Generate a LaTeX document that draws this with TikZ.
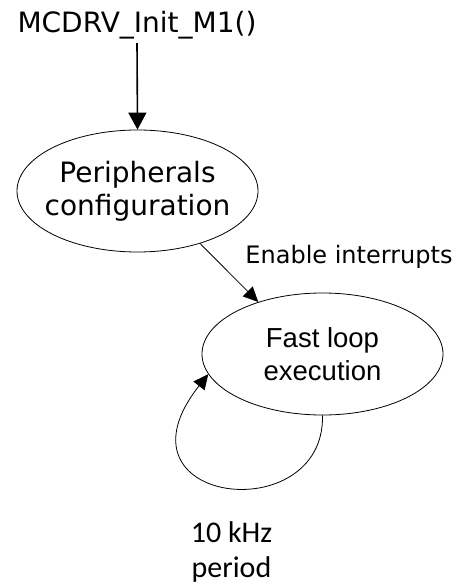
\documentclass[tikz,border=0pt]{standalone}
\usepackage{fontspec}
\setmainfont{DejaVu Sans}
\newfontfamily\loopfont{Liberation Sans}
\newfontfamily\periodfont{Carlito}
\usetikzlibrary{shapes.geometric,arrows.meta}

\tikzset{
  state/.style={ellipse,draw,line width=0.8pt,inner xsep=-12pt,inner ysep=0pt,
    minimum width=241pt,minimum height=122pt,align=center},
  flow/.style={-{Triangle[length=17pt,width=18pt]},line width=1.6pt},
  thinflow/.style={-{Triangle[length=15pt,width=14pt]},line width=0.8pt}
}

\begin{document}
\begin{tikzpicture}[x=1pt,y=-1pt]
\useasboundingbox (0,0) rectangle (459,586);

% Entry call
\node[anchor=base,font=\fontsize{28}{32}\selectfont] (init) at (137,33) {MCDRV\_Init\_M1()};

% States
\node[state,font=\fontsize{28}{33}\selectfont] (periph) at (137.5,191) {Peripherals\\configuration};
\node[state,font=\loopfont\fontsize{27.5}{33}\selectfont] (fastloop) at (322.5,354) {Fast loop\\execution};

% Transitions
\draw[flow] (init.south) -- (periph.north);
\draw[thinflow] (periph.-40) -- (fastloop.141);
\draw[thinflow] (fastloop.south) .. controls (325,530) and (105,505) .. (fastloop.190);

% Labels
\node[anchor=base,font=\fontsize{24}{28}\selectfont] (irq) at (349,263) {Enable interrupts};
\node[anchor=base,align=center,font=\periodfont\fontsize{30}{35}\selectfont] (period) at (231.5,577) {10 kHz\\period};
\end{tikzpicture}
\end{document}
